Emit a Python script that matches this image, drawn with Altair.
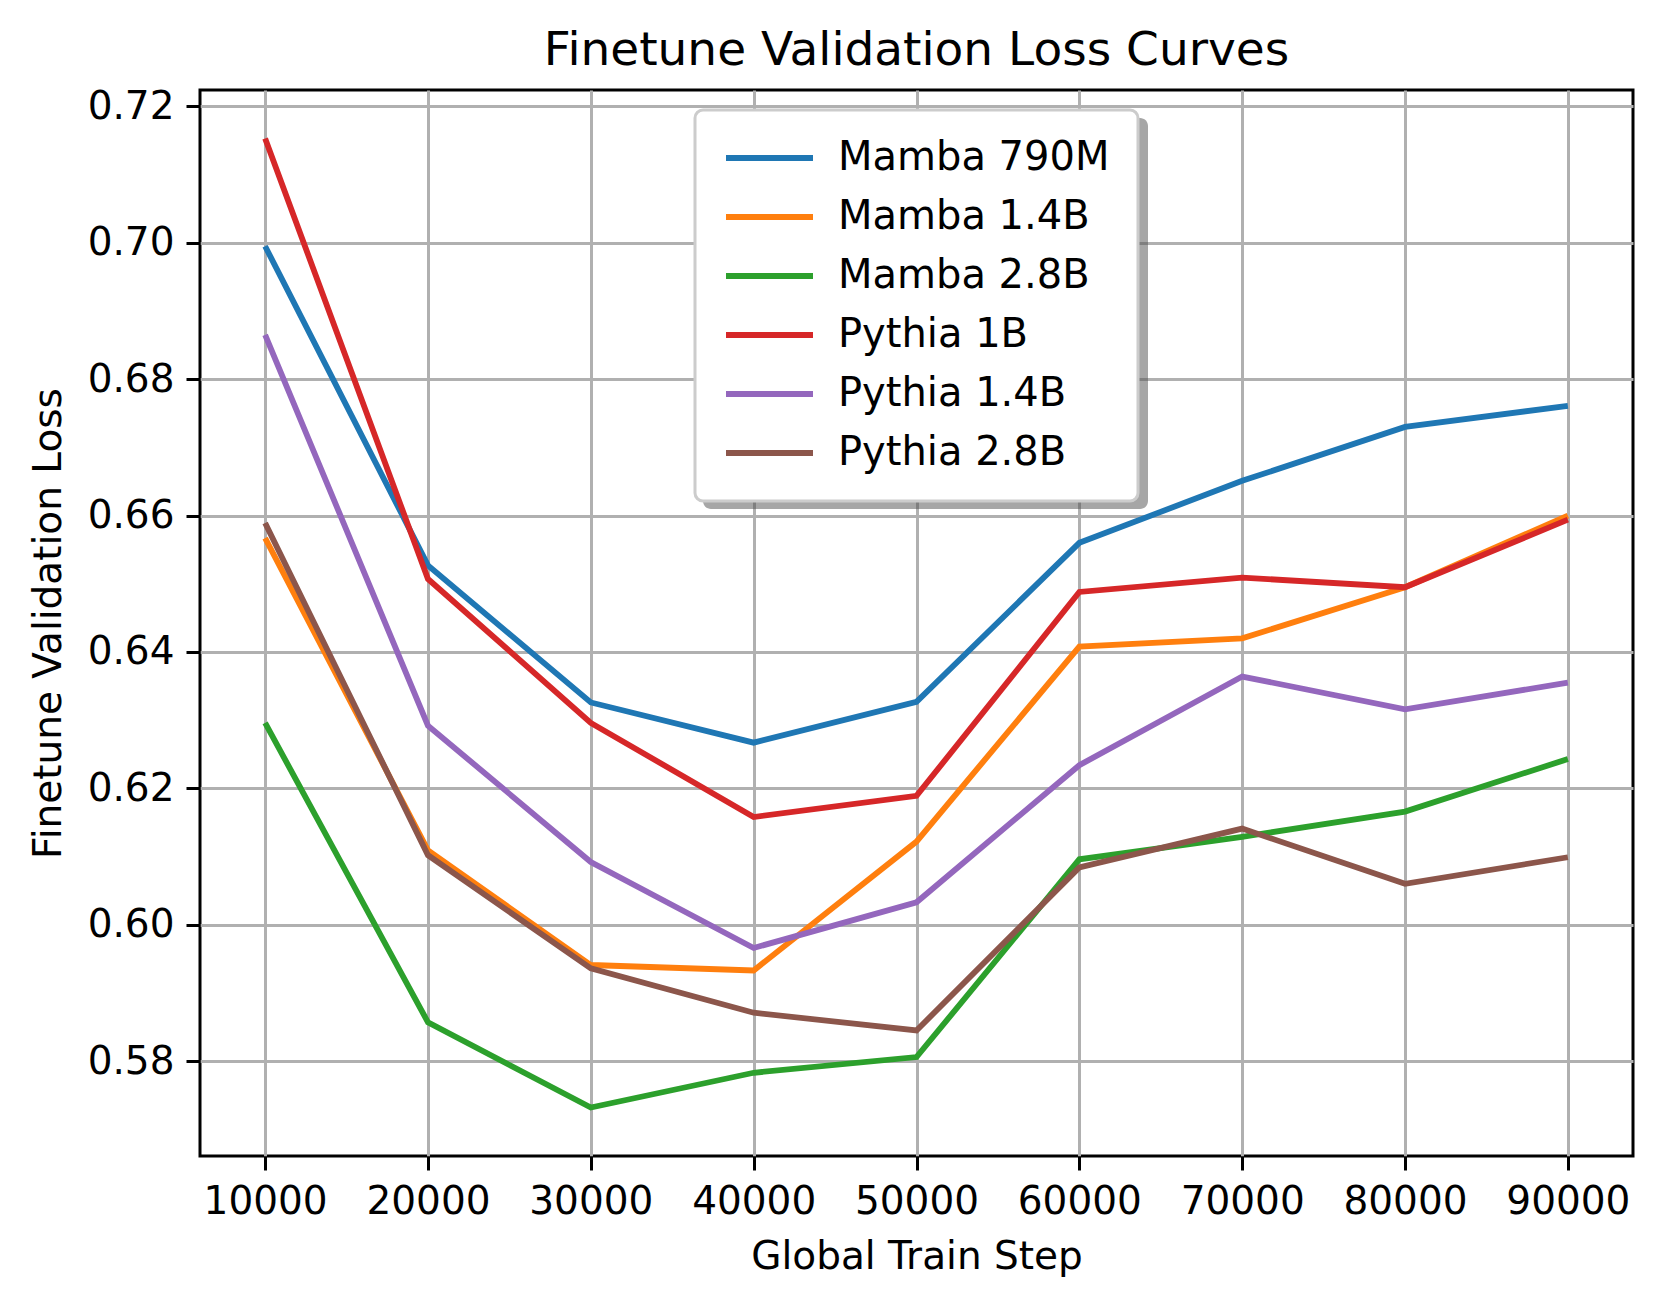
import altair as alt
import pandas as pd

steps = [10000, 20000, 30000, 40000, 50000, 60000, 70000, 80000, 90000]
series_names = ["Mamba 790M", "Mamba 1.4B", "Mamba 2.8B", "Pythia 1B", "Pythia 1.4B", "Pythia 2.8B"]
mamba_790m = [0.6995, 0.6527, 0.6326, 0.6267, 0.6327, 0.6560, 0.6651, 0.6730, 0.6761]
mamba_1_4b = [0.6567, 0.6109, 0.5941, 0.5933, 0.6122, 0.6408, 0.6420, 0.6495, 0.6600]
mamba_2_8b = [0.6296, 0.5857, 0.5732, 0.5783, 0.5806, 0.6096, 0.6129, 0.6166, 0.6243]
pythia_1b = [0.7153, 0.6507, 0.6296, 0.6158, 0.6189, 0.6488, 0.6509, 0.6495, 0.6594]
pythia_1_4b = [0.6865, 0.6292, 0.6092, 0.5966, 0.6033, 0.6234, 0.6364, 0.6316, 0.6355]
pythia_2_8b = [0.6589, 0.6102, 0.5936, 0.5871, 0.5845, 0.6084, 0.6141, 0.6060, 0.6099]
colors = ["#1f77b4", "#ff7f0e", "#2ca02c", "#d62728", "#9467bd", "#8c564b"]
y_ticks = [0.58, 0.60, 0.62, 0.64, 0.66, 0.68, 0.70, 0.72]

all_series = [mamba_790m, mamba_1_4b, mamba_2_8b, pythia_1b, pythia_1_4b, pythia_2_8b]
rows = []
for i, (name, vals) in enumerate(zip(series_names, all_series)):
    for s, v in zip(steps, vals):
        rows.append({"step": s, "loss": v, "model": name, "order": i})
df = pd.DataFrame(rows)

ymin = min(min(v) for v in all_series)
ymax = max(max(v) for v in all_series)
ypad = (ymax - ymin) * 0.05
xpad = (max(steps) - min(steps)) * 0.05

FONT = "DejaVu Sans"

lines = alt.Chart(df).mark_line(strokeWidth=5.8, clip=True).encode(
    x=alt.X("step:Q", title="Global Train Step",
            scale=alt.Scale(domain=[min(steps) - xpad, max(steps) + xpad], nice=False, zero=False),
            axis=alt.Axis(values=steps, format="d")),
    y=alt.Y("loss:Q", title="Finetune Validation Loss",
            scale=alt.Scale(domain=[ymin - ypad, ymax + ypad], nice=False, zero=False),
            axis=alt.Axis(values=y_ticks, format=".2f", titlePadding=19)),
    color=alt.Color("model:N", scale=alt.Scale(domain=series_names, range=colors),
                    legend=alt.Legend(title=None, orient="none", legendX=495, legendY=20)),
    detail="order:O",
)

shadow = alt.Chart(pd.DataFrame({"a": [0]})).mark_rect(
    color="#4d4d4d", opacity=0.5, cornerRadius=8
).encode(
    x=alt.value(503), x2=alt.value(948), y=alt.value(28), y2=alt.value(419)
)

chart = alt.layer(shadow, lines).properties(
    width=1433, height=1066,
    title=alt.TitleParams("Finetune Validation Loss Curves", fontSize=47, font=FONT,
                          fontWeight="normal", anchor="middle", offset=12, color="black"),
    autosize=alt.AutoSizeParams(type="none"),
    padding={"left": 192, "top": 82, "right": 22, "bottom": 144},
).configure_view(
    stroke="black", strokeWidth=3
).configure_axis(
    labelFont=FONT, titleFont=FONT, labelFontSize=39, titleFontSize=39,
    labelColor="black", titleColor="black", titleFontWeight="normal",
    grid=True, gridColor="#b0b0b0", gridWidth=3,
    domain=False, ticks=True, tickColor="black", tickWidth=3, tickSize=14,
    labelPadding=12, titlePadding=16,
).configure_legend(
    labelFont=FONT, labelFontSize=40, labelColor="black",
    symbolType="stroke", symbolSize=7569, symbolStrokeWidth=5.8,
    padding=28, rowPadding=19, labelOffset=22, labelLimit=600, clipHeight=40,
    fillColor="white", strokeColor="#cccccc", cornerRadius=8, strokeWidth=3,
)

chart.save("out.html", embed_options={"renderer": "svg", "actions": False})
